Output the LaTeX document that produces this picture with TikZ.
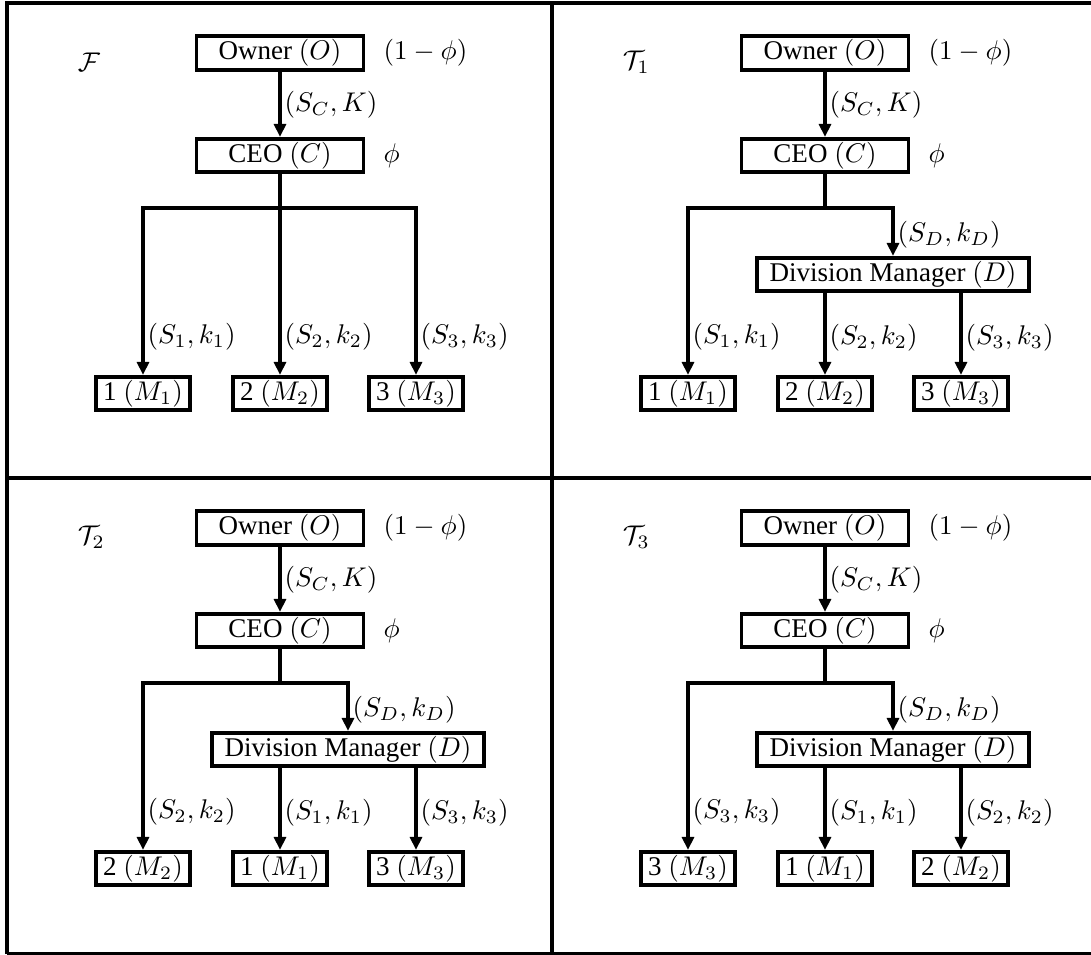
\documentclass[tikz,border=0pt]{standalone}
\usepackage[no-math]{fontspec}
\setmainfont{Liberation Serif}
\usepackage{amsmath}
\usepackage{tikz}
\usetikzlibrary{arrows.meta, positioning}

\begin{document}
\begin{tikzpicture}[
    x=0.37pt, y=-0.37pt,
    line width=1.45pt,
    node distance=5pt,
    role/.style={rectangle, draw, minimum width=61.8pt, minimum height=12.3pt, inner xsep=2pt, inner ysep=1pt},
    unit/.style={role, minimum width=35pt},
    div/.style={role, minimum width=100.5pt},
    share/.style={inner sep=1pt},
    lbl/.style={right, inner sep=1pt},
    tag/.style={anchor=west, inner sep=0pt},
    rel/.style={-{Triangle[length=4.8pt, width=4.4pt]}},
    frame/.style={line width=1.45pt},
]
\useasboundingbox (0,0) rectangle (1091,954);

% Table rules
\draw[frame] (7,954) -- (7,3) -- (1091,3);
\draw[frame] (552,3) -- (552,954);
\draw[frame] (7,478) -- (1091,478);
\draw[frame] (7,954) -- (1091,954);

% Panel F
\begin{scope}[shift={(7,3)}]
\node[tag] (tagF) at (69,59) {$\mathcal{F}$};
\node[role] (ownerF) at (273,50) {Owner $(O)$};
\node[role] (ceoF) at (273,152.5) {CEO $(C)$};
\node[share, right=of ownerF] (shareOF) {$(1-\phi)$};
\node[share, right=of ceoF] (shareCF) {$\phi$};
\coordinate (brF) at (273,205);
\node[unit] (m1F) at (136,390.5) {1 $(M_1)$};
\node[unit] (m2F) at (273,390.5) {2 $(M_2)$};
\node[unit] (m3F) at (409,390.5) {3 $(M_3)$};

\draw[rel] (ownerF) -- node[lbl] {$(S_C, K)$} (ceoF);
\draw (ceoF) -- (brF);
\draw[rel] (brF) -| node[lbl, pos=0.885] {$(S_1, k_1)$} (m1F);
\draw[rel] (brF) -- node[lbl, pos=0.77] {$(S_2, k_2)$} (m2F);
\draw[rel] (brF) -| node[lbl, pos=0.885] {$(S_3, k_3)$} (m3F);
\end{scope}

% Panel T1
\begin{scope}[shift={(552,3)}]
\node[tag] (tagT1) at (69,59) {$\mathcal{T}_1$};
\node[role] (ownerT1) at (273,50) {Owner $(O)$};
\node[role] (ceoT1) at (273,152.5) {CEO $(C)$};
\node[share, right=of ownerT1] (shareOT1) {$(1-\phi)$};
\node[share, right=of ceoT1] (shareCT1) {$\phi$};
\coordinate (brT1) at (273,205);
\node[div] (divT1) at (341,271.5) {Division Manager $(D)$};
\node[unit] (m1T1) at (136,390.5) {1 $(M_1)$};
\node[unit] (m2T1) at (273,390.5) {2 $(M_2)$};
\node[unit] (m3T1) at (409,390.5) {3 $(M_3)$};

\draw[rel] (ownerT1) -- node[lbl] {$(S_C, K)$} (ceoT1);
\draw (ceoT1) -- (brT1);
\draw[rel] (brT1) -| node[lbl, pos=0.885] {$(S_1, k_1)$} (m1T1);
\draw[rel] (brT1) -| node[lbl, pos=0.78] {$(S_D, k_D)$} (divT1);
\draw[rel] (divT1.south -| m2T1) -- node[lbl, pos=0.54] {$(S_2, k_2)$} (m2T1);
\draw[rel] (divT1.south -| m3T1) -- node[lbl, pos=0.54] {$(S_3, k_3)$} (m3T1);
\end{scope}

% Panel T2
\begin{scope}[shift={(7,478)}]
\node[tag] (tagT2) at (69,59) {$\mathcal{T}_2$};
\node[role] (ownerT2) at (273,50) {Owner $(O)$};
\node[role] (ceoT2) at (273,152.5) {CEO $(C)$};
\node[share, right=of ownerT2] (shareOT2) {$(1-\phi)$};
\node[share, right=of ceoT2] (shareCT2) {$\phi$};
\coordinate (brT2) at (273,205);
\node[div] (divT2) at (341,271.5) {Division Manager $(D)$};
\node[unit] (m2T2) at (136,390.5) {2 $(M_2)$};
\node[unit] (m1T2) at (273,390.5) {1 $(M_1)$};
\node[unit] (m3T2) at (409,390.5) {3 $(M_3)$};

\draw[rel] (ownerT2) -- node[lbl] {$(S_C, K)$} (ceoT2);
\draw (ceoT2) -- (brT2);
\draw[rel] (brT2) -| node[lbl, pos=0.885] {$(S_2, k_2)$} (m2T2);
\draw[rel] (brT2) -| node[lbl, pos=0.78] {$(S_D, k_D)$} (divT2);
\draw[rel] (divT2.south -| m1T2) -- node[lbl, pos=0.54] {$(S_1, k_1)$} (m1T2);
\draw[rel] (divT2.south -| m3T2) -- node[lbl, pos=0.54] {$(S_3, k_3)$} (m3T2);
\end{scope}

% Panel T3
\begin{scope}[shift={(552,478)}]
\node[tag] (tagT3) at (69,59) {$\mathcal{T}_3$};
\node[role] (ownerT3) at (273,50) {Owner $(O)$};
\node[role] (ceoT3) at (273,152.5) {CEO $(C)$};
\node[share, right=of ownerT3] (shareOT3) {$(1-\phi)$};
\node[share, right=of ceoT3] (shareCT3) {$\phi$};
\coordinate (brT3) at (273,205);
\node[div] (divT3) at (341,271.5) {Division Manager $(D)$};
\node[unit] (m3T3) at (136,390.5) {3 $(M_3)$};
\node[unit] (m1T3) at (273,390.5) {1 $(M_1)$};
\node[unit] (m2T3) at (409,390.5) {2 $(M_2)$};

\draw[rel] (ownerT3) -- node[lbl] {$(S_C, K)$} (ceoT3);
\draw (ceoT3) -- (brT3);
\draw[rel] (brT3) -| node[lbl, pos=0.885] {$(S_3, k_3)$} (m3T3);
\draw[rel] (brT3) -| node[lbl, pos=0.78] {$(S_D, k_D)$} (divT3);
\draw[rel] (divT3.south -| m1T3) -- node[lbl, pos=0.54] {$(S_1, k_1)$} (m1T3);
\draw[rel] (divT3.south -| m2T3) -- node[lbl, pos=0.54] {$(S_2, k_2)$} (m2T3);
\end{scope}

\end{tikzpicture}
\end{document}
